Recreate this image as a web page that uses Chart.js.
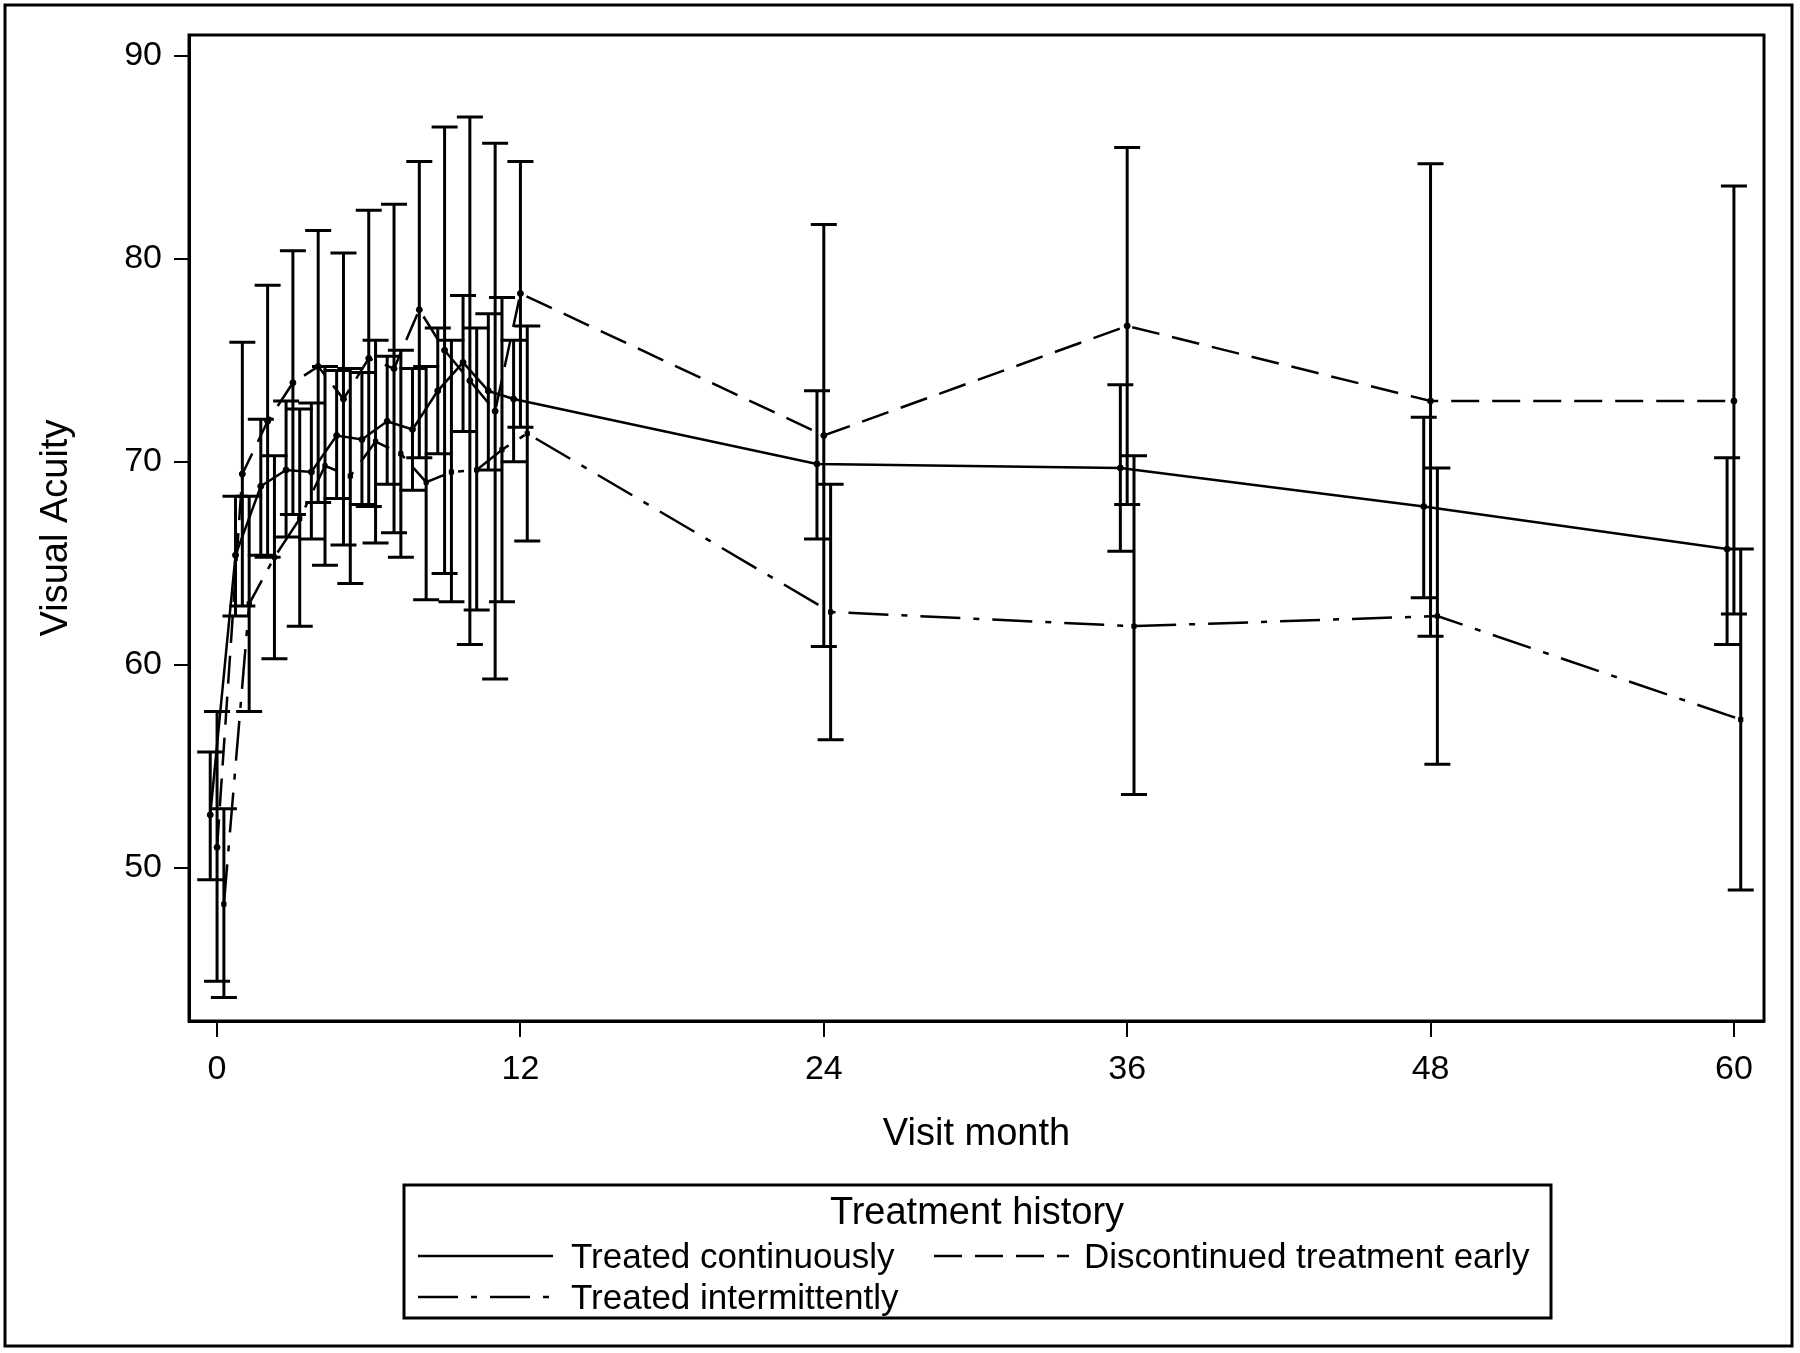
<!DOCTYPE html>
<html>
<head>
<meta charset="utf-8">
<script src="https://cdn.jsdelivr.net/npm/chart.js@4.4.1/dist/chart.umd.min.js"></script>
<style>
  body { margin: 0; background: #fff; }
</style>
</head>
<body>
<canvas id="vaChart" width="1800" height="1353"></canvas>
<script>
var months = [0, 1, 2, 3, 4, 5, 6, 7, 8, 9, 10, 11, 12, 24, 36, 48, 60];

// Treated continuously
var contMean  = [52.6, 65.4, 68.8, 69.6, 69.5, 71.3, 71.1, 72.0, 71.6, 73.5, 74.9, 73.5, 73.1, 69.9, 69.7, 67.8, 65.7];
var contLower = [49.4, 62.4, 65.4, 66.3, 66.2, 68.2, 67.9, 68.9, 68.6, 70.4, 71.5, 69.6, 70.0, 66.2, 65.6, 63.3, 61.0];
var contUpper = [55.7, 68.3, 72.1, 73.0, 72.9, 74.5, 74.4, 75.2, 74.6, 76.6, 78.2, 77.3, 76.0, 73.5, 73.8, 72.2, 70.2];

// Discontinued treatment early
var discMean  = [51.0, 69.4, 72.0, 73.9, 74.7, 73.1, 75.1, 74.6, 77.5, 75.5, 74.0, 72.5, 78.3, 71.3, 76.7, 73.0, 73.0];
var discLower = [44.4, 62.9, 65.3, 67.4, 68.0, 65.9, 67.8, 66.5, 70.2, 64.5, 61.0, 59.3, 71.7, 60.9, 67.9, 61.4, 62.5];
var discUpper = [57.7, 75.9, 78.7, 80.4, 81.4, 80.3, 82.4, 82.7, 84.8, 86.5, 87.0, 85.7, 84.8, 81.7, 85.5, 84.7, 83.6];

// Treated intermittently
var interMean  = [48.2, 63.0, 65.3, 67.2, 69.8, 69.3, 71.0, 70.4, 69.0, 69.5, 69.6, 70.6, 71.4, 62.6, 61.9, 62.4, 57.3];
var interLower = [43.6, 57.7, 60.3, 61.9, 64.9, 64.0, 66.0, 65.3, 63.2, 63.1, 62.7, 63.1, 66.1, 56.3, 53.6, 55.1, 48.9];
var interUpper = [52.9, 68.3, 70.3, 72.6, 74.7, 74.6, 76.0, 75.5, 74.7, 76.0, 76.6, 78.1, 76.7, 68.9, 70.3, 69.7, 65.7];

var seriesNames = ["Treated continuously", "Discontinued treatment early", "Treated intermittently"];
var xTicks = [0, 12, 24, 36, 48, 60];
var yTicks = [50, 60, 70, 80, 90];

var FONT = "'Liberation Sans', Arial, sans-serif";
var CLUSTER = 0.27; // small horizontal shift so the groups don't overlap

function points(mean, shift) {
  return months.map(function (m, i) { return { x: m + shift, y: mean[i] }; });
}

function series(label, mean, lower, upper, shift, dash, pointStyle) {
  return {
    label: label,
    data: points(mean, shift),
    lower: lower,
    upper: upper,
    showLine: true,
    borderColor: "#000",
    backgroundColor: "#000",
    borderWidth: 2.5,
    borderDash: dash,
    pointStyle: pointStyle,
    pointRadius: 3,
    pointBorderWidth: 1,
    pointBackgroundColor: "#000",
    pointBorderColor: "#000"
  };
}

// error bars + frame
var errorBars = {
  id: "errorBars",
  afterDatasetsDraw: function (chart) {
    var ctx = chart.ctx, xs = chart.scales.x, ys = chart.scales.y;
    ctx.save();
    ctx.strokeStyle = "#000";
    ctx.lineWidth = 3;
    ctx.setLineDash([]);
    chart.data.datasets.forEach(function (ds) {
      ds.data.forEach(function (pt, i) {
        var px = xs.getPixelForValue(pt.x);
        var top = ys.getPixelForValue(ds.upper[i]);
        var bot = ys.getPixelForValue(ds.lower[i]);
        ctx.beginPath();
        ctx.moveTo(px, top); ctx.lineTo(px, bot);
        ctx.moveTo(px - 13, top); ctx.lineTo(px + 13, top);
        ctx.moveTo(px - 13, bot); ctx.lineTo(px + 13, bot);
        ctx.stroke();
      });
    });
    var a = chart.chartArea;
    ctx.lineWidth = 3;
    ctx.strokeRect(a.left, a.top, a.right - a.left, a.bottom - a.top);
    ctx.restore();
  }
};

// boxed legend with title, two columns
var boxLegend = {
  id: "boxLegend",
  afterDraw: function (chart) {
    var ctx = chart.ctx;
    var ds = chart.data.datasets;
    ctx.save();
    ctx.strokeStyle = "#000";
    ctx.fillStyle = "#000";
    ctx.lineWidth = 3;
    ctx.setLineDash([]);
    ctx.strokeRect(404, 1185, 1147, 133);
    // outer border of the figure
    ctx.strokeRect(5, 5, 1787, 1341);

    ctx.font = "38px " + FONT;
    ctx.textAlign = "center";
    ctx.textBaseline = "alphabetic";
    ctx.fillText("Treatment history", 977, 1224);

    var slots = [
      { sx: 418, tx: 571, ly: 1256, by: 1268 },
      { sx: 934, tx: 1084, ly: 1256, by: 1268 },
      { sx: 418, tx: 571, ly: 1297, by: 1309 }
    ];
    ctx.font = "35px " + FONT;
    ctx.textAlign = "left";
    ds.forEach(function (d, i) {
      var s = slots[i];
      ctx.lineWidth = 2.5;
      ctx.setLineDash(d.borderDash || []);
      ctx.beginPath();
      ctx.moveTo(s.sx, s.ly);
      ctx.lineTo(s.sx + 135, s.ly);
      ctx.stroke();
      ctx.setLineDash([]);
      ctx.fillText(d.label, s.tx, s.by);
    });
    ctx.restore();
  }
};

new Chart(document.getElementById("vaChart").getContext("2d"), {
  type: "scatter",
  data: {
    datasets: [
      series(seriesNames[0], contMean, contLower, contUpper, -CLUSTER, [], "circle"),
      series(seriesNames[1], discMean, discLower, discUpper, 0, [28, 13], "circle"),
      series(seriesNames[2], interMean, interLower, interUpper, CLUSTER, [40, 13, 6, 13], "rect")
    ]
  },
  options: {
    responsive: false,
    animation: false,
    devicePixelRatio: 1,
    layout: { padding: { left: 10, top: 35, right: 36, bottom: 192 } },
    plugins: {
      legend: { display: false },
      tooltip: { enabled: false }
    },
    scales: {
      x: {
        type: "linear",
        min: -1.11,
        max: 61.19,
        afterBuildTicks: function (s) { s.ticks = xTicks.map(function (v) { return { value: v }; }); },
        afterFit: function (s) { s.height = 140; },
        grid: { drawOnChartArea: false, drawTicks: true, tickLength: 16, color: "#000", lineWidth: 2 },
        border: { display: true, color: "#000", width: 3 },
        ticks: { color: "#000", padding: 12, maxRotation: 0, font: { family: FONT, size: 34 } },
        title: { display: true, text: "Visit month", color: "#000", font: { family: FONT, size: 38 }, padding: { top: 0, bottom: 4 } }
      },
      y: {
        min: 42.44,
        max: 91.04,
        afterBuildTicks: function (s) { s.ticks = yTicks.map(function (v) { return { value: v }; }); },
        afterFit: function (s) { s.width = 179; },
        grid: { drawOnChartArea: false, drawTicks: true, tickLength: 15, color: "#000", lineWidth: 2 },
        border: { display: true, color: "#000", width: 3 },
        ticks: { color: "#000", padding: 12, font: { family: FONT, size: 34 } },
        title: { display: true, text: "Visual Acuity", color: "#000", font: { family: FONT, size: 38 }, padding: { top: 24, bottom: 0 } }
      }
    }
  },
  plugins: [errorBars, boxLegend]
});
</script>
</body>
</html>
